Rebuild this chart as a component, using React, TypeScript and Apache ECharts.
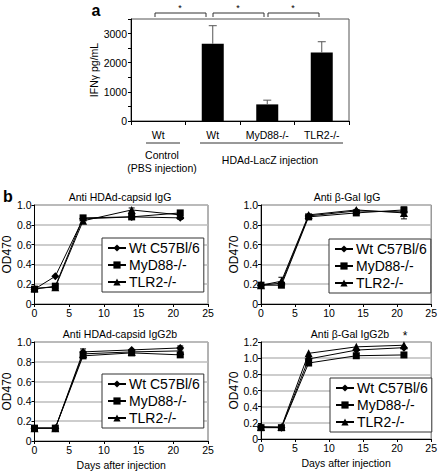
import React, { useEffect, useRef } from "react";
import * as echarts from "echarts";

// ---- Panel a data ----
const ifnLabels = ["Wt", "Wt", "MyD88-/-", "TLR2-/-"];
const ifnValues = [0, 2650, 570, 2350];
const ifnErrors = [0, 620, 145, 370];
const ifnTicks = [0, 1000, 2000, 3000];

// ---- Panel b data ----
const days = [0, 3, 7, 14, 21];
const seriesNames = ["Wt C57Bl/6", "MyD88-/-", "TLR2-/-"];
const seriesSymbols = ["diamond", "rect", "triangle"];

const capsidIgGWt = [0.15, 0.28, 0.86, 0.88, 0.87];
const capsidIgGMyd = [0.15, 0.18, 0.87, 0.88, 0.92];
const capsidIgGTlr = [0.16, 0.17, 0.84, 0.95, 0.9];
const capsidIgGWtErr = [0, 0, 0, 0, 0.015];
const capsidIgGMydErr = [0, 0, 0, 0, 0];
const capsidIgGTlrErr = [0, 0, 0, 0.02, 0];

const galIgGWt = [0.19, 0.21, 0.89, 0.94, 0.93];
const galIgGMyd = [0.19, 0.19, 0.88, 0.92, 0.95];
const galIgGTlr = [0.19, 0.23, 0.9, 0.95, 0.92];
const galIgGWtErr = [0, 0, 0, 0, 0];
const galIgGMydErr = [0, 0, 0, 0, 0];
const galIgGTlrErr = [0, 0.04, 0, 0, 0.06];

const capsidIgG2bWt = [0.13, 0.13, 0.9, 0.92, 0.94];
const capsidIgG2bMyd = [0.13, 0.13, 0.86, 0.89, 0.87];
const capsidIgG2bTlr = [0.13, 0.13, 0.88, 0.9, 0.91];
const capsidIgG2bWtErr = [0, 0, 0.03, 0, 0.02];
const capsidIgG2bMydErr = [0, 0, 0, 0, 0];
const capsidIgG2bTlrErr = [0, 0, 0, 0, 0];

const galIgG2bWt = [0.15, 0.14, 0.99, 1.1, 1.13];
const galIgG2bMyd = [0.14, 0.14, 0.94, 1.03, 1.04];
const galIgG2bTlr = [0.15, 0.15, 1.06, 1.14, 1.16];
const galIgG2bWtErr = [0, 0, 0, 0, 0];
const galIgG2bMydErr = [0, 0, 0, 0, 0];
const galIgG2bTlrErr = [0, 0, 0, 0, 0];

const FONT = "'Liberation Sans', Arial, Helvetica, sans-serif";
const FS = 10.5;

const panels = [
  {
    title: "Anti HDAd-capsid IgG",
    grid: { left: 32, top: 205, width: 176, height: 99 },
    max: 1.0,
    values: [capsidIgGWt, capsidIgGMyd, capsidIgGTlr],
    errors: [capsidIgGWtErr, capsidIgGMydErr, capsidIgGTlrErr],
    legend: { left: 102, top: 238 },
    xName: "",
  },
  {
    title: "Anti β-Gal IgG",
    grid: { left: 261, top: 205, width: 172, height: 99 },
    max: 1.0,
    values: [galIgGWt, galIgGMyd, galIgGTlr],
    errors: [galIgGWtErr, galIgGMydErr, galIgGTlrErr],
    legend: { left: 329, top: 239 },
    xName: "",
  },
  {
    title: "Anti HDAd-capsid IgG2b",
    grid: { left: 33, top: 342, width: 175, height: 99 },
    max: 1.0,
    values: [capsidIgG2bWt, capsidIgG2bMyd, capsidIgG2bTlr],
    errors: [capsidIgG2bWtErr, capsidIgG2bMydErr, capsidIgG2bTlrErr],
    legend: { left: 102, top: 374 },
    xName: "Days after injection",
  },
  {
    title: "Anti β-Gal IgG2b",
    grid: { left: 261, top: 342, width: 172, height: 97 },
    max: 1.2,
    values: [galIgG2bWt, galIgG2bMyd, galIgG2bTlr],
    errors: [galIgG2bWtErr, galIgG2bMydErr, galIgG2bTlrErr],
    legend: { left: 330, top: 378 },
    xName: "Days after injection",
  },
];

function buildOption() {
  const grids: any[] = [{ left: 131, top: 19, width: 218, height: 102, show: true, borderColor: "#555", borderWidth: 1 }];
  const xAxes: any[] = [
    {
      type: "category",
      gridIndex: 0,
      data: ifnLabels.map((_, i) => String(i)),
      axisLine: { lineStyle: { color: "#000" } },
      axisTick: { show: true, interval: 0, alignWithLabel: false, length: 4, lineStyle: { color: "#000" } },
      axisLabel: {
        interval: 0,
        formatter: (v: string) => ifnLabels[Number(v)],
        color: "#000",
        fontFamily: FONT,
        fontSize: FS,
        margin: 8,
      },
    },
  ];
  const yAxes: any[] = [
    {
      type: "value",
      gridIndex: 0,
      min: 0,
      max: 3500,
      interval: 500,
      name: "IFNγ pg/mL",
      nameLocation: "middle",
      nameGap: 29,
      nameTextStyle: { color: "#000", fontFamily: FONT, fontSize: FS },
      axisLine: { show: true, lineStyle: { color: "#000" } },
      axisTick: { show: true, length: 3, lineStyle: { color: "#000" } },
      splitLine: { show: false },
      axisLabel: {
        color: "#000",
        fontFamily: FONT,
        fontSize: FS,
        margin: 4,
        formatter: (v: number) => (ifnTicks.indexOf(v) >= 0 ? String(v) : ""),
      },
    },
  ];
  const series: any[] = [
    {
      type: "bar",
      xAxisIndex: 0,
      yAxisIndex: 0,
      data: ifnValues,
      barWidth: 22,
      itemStyle: { color: "#000" },
      z: 2,
    },
    {
      type: "custom",
      xAxisIndex: 0,
      yAxisIndex: 0,
      data: ifnValues.map((v, i) => [i, v, v + ifnErrors[i]]),
      encode: { x: 0, y: [1, 2] },
      z: 3,
      renderItem: (params: any, api: any) => {
        if (api.value(2) === api.value(1)) return null;
        const base = api.coord([api.value(0), api.value(1)]);
        const top = api.coord([api.value(0), api.value(2)]);
        const st = { stroke: "#555", lineWidth: 1 };
        return {
          type: "group",
          children: [
            { type: "line", shape: { x1: base[0], y1: base[1], x2: top[0], y2: top[1] }, style: st },
            { type: "line", shape: { x1: top[0] - 4, y1: top[1], x2: top[0] + 4, y2: top[1] }, style: st },
          ],
        };
      },
    },
  ];
  const legends: any[] = [];

  panels.forEach((p, k) => {
    const gi = k + 1;
    grids.push({ ...p.grid, show: true, borderColor: "#666", borderWidth: 1 });
    xAxes.push({
      type: "value",
      gridIndex: gi,
      min: 0,
      max: 25,
      interval: 5,
      name: p.xName,
      nameLocation: "middle",
      nameGap: 18,
      nameTextStyle: { color: "#000", fontFamily: FONT, fontSize: FS },
      axisLine: { show: true, lineStyle: { color: "#000" } },
      axisTick: { show: true, length: 3, lineStyle: { color: "#000" } },
      splitLine: { show: false },
      axisLabel: { color: "#000", fontFamily: FONT, fontSize: FS, margin: 3 },
    });
    yAxes.push({
      type: "value",
      gridIndex: gi,
      min: 0,
      max: p.max,
      interval: 0.2,
      name: "OD470",
      nameLocation: "middle",
      nameGap: 21,
      nameTextStyle: { color: "#000", fontFamily: FONT, fontSize: 12 },
      axisLine: { show: true, lineStyle: { color: "#000" } },
      axisTick: { show: true, length: 3, lineStyle: { color: "#000" } },
      splitLine: { show: true, lineStyle: { color: "#bdbdbd", width: 1.5 } },
      axisLabel: {
        color: "#000",
        fontFamily: FONT,
        fontSize: FS,
        margin: 3,
        formatter: (v: number) => (v === 0 ? "0" : v.toFixed(1)),
      },
    });
    seriesNames.forEach((name, s) => {
      series.push({
        type: "line",
        name,
        xAxisIndex: gi,
        yAxisIndex: gi,
        data: days.map((d, i) => [d, p.values[s][i]]),
        symbol: seriesSymbols[s],
        symbolSize: s === 1 ? 7 : 8,
        color: "#000",
        itemStyle: { color: "#000" },
        lineStyle: { color: "#000", width: 1 },
        z: 3 + s,
      });
      series.push({
        type: "custom",
        xAxisIndex: gi,
        yAxisIndex: gi,
        data: days
          .map((d, i) => [d, p.values[s][i], p.errors[s][i]])
          .filter((r) => r[2] > 0),
        encode: { x: 0, y: 1 },
        z: 3,
        renderItem: (params: any, api: any) => {
          const x = api.value(0);
          const y = api.value(1);
          const e = api.value(2);
          const lo = api.coord([x, y - e]);
          const hi = api.coord([x, y + e]);
          const st = { stroke: "#000", lineWidth: 1 };
          return {
            type: "group",
            children: [
              { type: "line", shape: { x1: lo[0], y1: lo[1], x2: hi[0], y2: hi[1] }, style: st },
              { type: "line", shape: { x1: hi[0] - 3, y1: hi[1], x2: hi[0] + 3, y2: hi[1] }, style: st },
              { type: "line", shape: { x1: lo[0] - 3, y1: lo[1], x2: lo[0] + 3, y2: lo[1] }, style: st },
            ],
          };
        },
      });
    });
    legends.push({
      left: p.legend.left,
      top: p.legend.top,
      orient: "vertical",
      data: seriesNames,
      selectedMode: false,
      backgroundColor: "#fff",
      borderColor: "#333",
      borderWidth: 1,
      borderRadius: 0,
      padding: [3, 4, 3, 5],
      itemGap: 3,
      itemWidth: 18,
      itemHeight: 9,
      textStyle: { color: "#000", fontFamily: FONT, fontSize: 14, padding: [0, 0, 0, -2] },
      z: 10,
    });
  });

  const txt = (x: number, y: number, text: string, extra: any = {}) => ({
    type: "text",
    x,
    y,
    style: {
      text,
      fill: "#000",
      font: `${FS}px ${FONT}`,
      textAlign: "center",
      textVerticalAlign: "middle",
      ...extra,
    },
  });
  const ln = (x1: number, y1: number, x2: number, y2: number, color = "#333") => ({
    type: "line",
    shape: { x1, y1, x2, y2 },
    style: { stroke: color, lineWidth: 1 },
  });
  const bracket = (x1: number, x2: number) => ({
    type: "polyline",
    shape: { points: [[x1, 17], [x1, 13], [x2, 13], [x2, 17]] },
    style: { stroke: "#333", lineWidth: 1, fill: null },
  });

  const graphic: any[] = [
    txt(96, 10, "a", { font: `bold 16px ${FONT}` }),
    txt(8, 196, "b", { font: `bold 16px ${FONT}` }),
    bracket(155, 206),
    bracket(213, 264),
    bracket(268, 319),
    txt(180, 8, "*", { font: `9px ${FONT}` }),
    txt(238, 8, "*", { font: `9px ${FONT}` }),
    txt(293, 8, "*", { font: `9px ${FONT}` }),
    ln(146, 143, 180, 143),
    ln(200, 143, 343, 143),
    txt(162, 155, "Control"),
    txt(162, 168, "(PBS injection)"),
    txt(270, 160, "HDAd-LacZ injection"),
    txt(120, 197, panels[0].title),
    txt(347, 197, panels[1].title),
    txt(120, 334, panels[2].title),
    txt(350, 334, panels[3].title),
    txt(405, 336, "*", { font: `12px ${FONT}` }),
  ];

  return {
    animation: false,
    backgroundColor: "#fff",
    textStyle: { fontFamily: FONT },
    grid: grids,
    xAxis: xAxes,
    yAxis: yAxes,
    legend: legends,
    series,
    graphic,
  };
}

export default function App() {
  const ref = useRef<HTMLDivElement>(null);
  useEffect(() => {
    if (!ref.current) return;
    const chart = echarts.init(ref.current, null, { renderer: "svg" });
    chart.setOption(buildOption() as any);
    return () => chart.dispose();
  }, []);
  return (
    <div
      ref={ref}
      style={{ position: "fixed", left: 0, top: 0, width: 440, height: 471, background: "#fff" }}
    />
  );
}
